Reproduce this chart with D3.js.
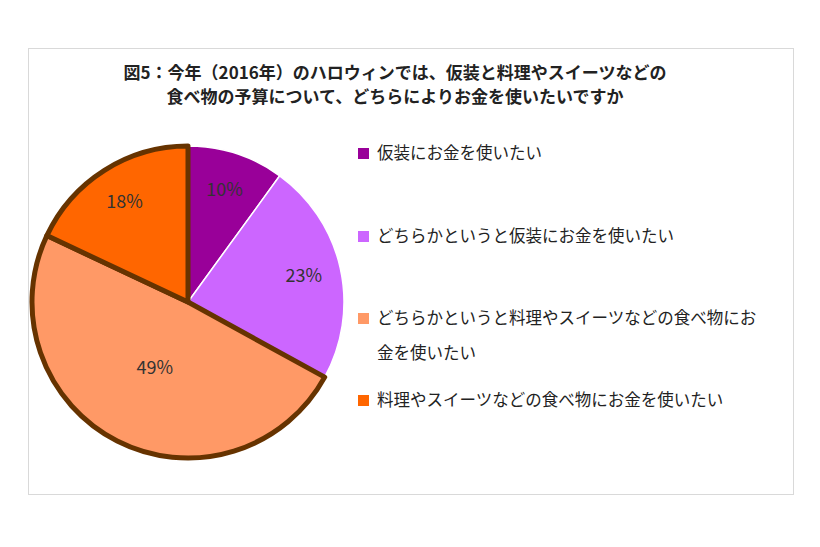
<!DOCTYPE html>
<html><head><meta charset="utf-8">
<script src="https://cdn.jsdelivr.net/npm/d3@7"></script>
<style>body{margin:0;background:#fff}</style></head>
<body><svg id="c" width="820" height="547"></svg>
<script>
const categories=["仮装にお金を使いたい","どちらかというと仮装にお金を使いたい","どちらかというと料理やスイーツなどの食べ物にお金を使いたい","料理やスイーツなどの食べ物にお金を使いたい"];
const legendLines=[["仮装にお金を使いたい"],["どちらかというと仮装にお金を使いたい"],["どちらかというと料理やスイーツなどの食べ物にお","金を使いたい"],["料理やスイーツなどの食べ物にお金を使いたい"]];
const values=[10,23,49,18];
const colors=["#990099","#cc66ff","#ff9966","#ff6600"];
const titleLines=["図5：今年（2016年）のハロウィンでは、仮装と料理やスイーツなどの","食べ物の予算について、どちらによりお金を使いたいですか"];
const svg=d3.select("#c");
const font="'Noto Sans CJK JP','Noto Sans',sans-serif";
svg.append("rect").attr("x",28.5).attr("y",48.5).attr("width",765).attr("height",446).attr("fill","#fff").attr("stroke","#d9d9d9");
svg.selectAll(".t").data(titleLines).join("text").attr("x",395).attr("y",(d,i)=>79+i*24)
 .attr("text-anchor","middle").attr("font-family",font).attr("font-weight","bold").attr("font-size",17).attr("fill","#222").text(d=>d);
const cx=188,cy=302,r=156;
const pie=d3.pie().sort(null).value(d=>d);
const arcs=pie(values);
const arc=d3.arc().innerRadius(0).outerRadius(r);
const g=svg.append("g").attr("transform",`translate(${cx},${cy})`);
g.selectAll("path.a").data(arcs.slice(0,2)).join("path").attr("d",arc).attr("fill",(d,i)=>colors[i]).attr("stroke","#fff").attr("stroke-width",1.5);
g.selectAll("path.b").data(arcs.slice(2)).join("path").attr("d",arc).attr("fill",(d,i)=>colors[i+2]).attr("stroke","#663300").attr("stroke-width",5).attr("stroke-linejoin","round");
function lpos(d){const f=d.data>40?0.47:0.76;const a=d3.arc().innerRadius(r*f).outerRadius(r*f);return a.centroid(d);}
g.selectAll("text").data(arcs).join("text").attr("transform",d=>`translate(${lpos(d)})`)
 .attr("text-anchor","middle").attr("dy","0.35em").attr("font-family",font).attr("font-size",18).attr("fill","#333").text(d=>d.data+"%");
const ly=[153,236,318,400];
const lg=svg.selectAll(".l").data(categories).join("g").attr("transform",(d,i)=>`translate(358,${ly[i]})`);
lg.append("rect").attr("x",0).attr("y",-5).attr("width",11).attr("height",11).attr("fill",(d,i)=>colors[i]);
lg.each(function(d,i){d3.select(this).selectAll("text").data(legendLines[i]).join("text").attr("x",19).attr("y",(t,j)=>6+j*35)
 .attr("font-family",font).attr("font-size",16.5).attr("fill","#222").text(t=>t);});
</script></body></html>
